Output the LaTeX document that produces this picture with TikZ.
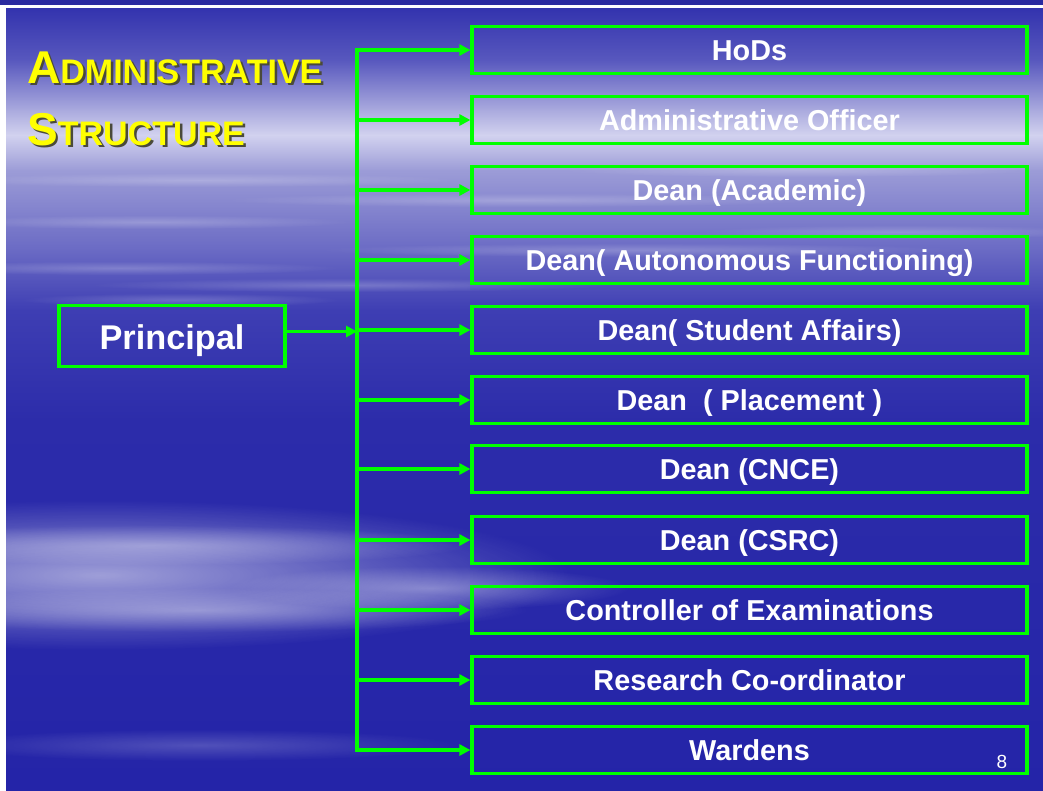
\documentclass[tikz,border=0pt]{standalone}
\usepackage{fontspec}
\setmainfont{Liberation Sans}
\usetikzlibrary{arrows.meta,fadings}
\definecolor{lgreen}{HTML}{00FF00}
\definecolor{ttlyellow}{HTML}{FFFF00}
\definecolor{ttlshadow}{HTML}{4A4A3A}
\definecolor{bgA}{HTML}{3333AE}
\definecolor{bgB}{HTML}{5858BE}
\definecolor{bgC}{HTML}{AAAADE}
\definecolor{bgD}{HTML}{D2D2EF}
\definecolor{bgE}{HTML}{9C9CD7}
\definecolor{bgF}{HTML}{6A6AC4}
\definecolor{bgG}{HTML}{3E3EB3}
\definecolor{bgH}{HTML}{2C2CAA}
\definecolor{bgI}{HTML}{2424A8}
\definecolor{topband}{HTML}{2A2AA0}
\tikzfading[name=softcloud, inner color=transparent!0, outer color=transparent!100]
\begin{document}
\begin{tikzpicture}[x=1pt,y=-1pt,
  box/.style={draw=lgreen,line width=3.2pt,minimum width=555pt,minimum height=47pt,inner sep=0pt,
    text height=21pt,text depth=0pt,
    text=white,font=\fontsize{28.8}{32}\selectfont\bfseries},
  pbox/.style={draw=lgreen,line width=3.2pt,minimum width=226pt,minimum height=61pt,inner sep=0pt,
    text height=26pt,text depth=0pt,
    text=white,font=\fontsize{34.3}{38}\selectfont\bfseries},
  conn/.style={draw=lgreen,line width=3.6pt},
  arr/.style={conn,-{Triangle[length=11pt,width=11pt]}},
  ttl/.style={inner sep=0pt,anchor=base west,font=\bfseries},
  cloud/.style={fill=white,path fading=softcloud,fill opacity=#1}
]
\useasboundingbox (0,0) rectangle (1043,790);
% background
\fill[white] (0,0) rectangle (1043,790);
\fill[topband] (0,0) rectangle (1043,4.5);
\shade[top color=bgA,bottom color=bgB] (6,8) rectangle (1043,60.5);
\shade[top color=bgB,bottom color=bgC] (6,60) rectangle (1043,110.5);
\shade[top color=bgC,bottom color=bgD] (6,110) rectangle (1043,135.5);
\shade[top color=bgD,bottom color=bgE] (6,135) rectangle (1043,170.5);
\shade[top color=bgE,bottom color=bgF] (6,170) rectangle (1043,250.5);
\shade[top color=bgF,bottom color=bgG] (6,250) rectangle (1043,310.5);
\shade[top color=bgG,bottom color=bgH] (6,310) rectangle (1043,420.5);
\shade[top color=bgH,bottom color=bgI] (6,420) rectangle (1043,790);
% streaks
\foreach \yy/\xx/\rr in {180/200/260,200/520/300,222/150/200,250/640/320,268/120/220,285/350/260,300/180/160,170/800/240,232/900/200}{
  \path[cloud=0.22] (\xx,\yy) ellipse ({\rr} and 7);
}
% lower cloud
\path[cloud=0.55] (100,575) ellipse (470 and 75);
\path[cloud=0.35] (150,545) ellipse (320 and 20);
\path[cloud=0.35] (200,610) ellipse (330 and 22);
\path[cloud=0.35] (430,588) ellipse (200 and 22);
\path[cloud=0.2] (200,745) ellipse (260 and 16);
% title
\node[ttl,text=ttlshadow] at (29.5,85.5) {\fontsize{46}{50}\selectfont A\fontsize{34}{38}\selectfont DMINISTRATIVE};
\node[ttl,text=ttlyellow] at (27,83) {\fontsize{46}{50}\selectfont A\fontsize{34}{38}\selectfont DMINISTRATIVE};
\node[ttl,text=ttlshadow] at (29.5,147.5) {\fontsize{46}{50}\selectfont S\fontsize{34}{38}\selectfont TRUCTURE};
\node[ttl,text=ttlyellow] at (27,145) {\fontsize{46}{50}\selectfont S\fontsize{34}{38}\selectfont TRUCTURE};
% boxes
\node[pbox] (principal) at (172,336) {Principal};
\node[box] (b1) at (749.5,50) {HoDs};
\node[box] (b2) at (749.5,120) {Administrative Officer};
\node[box] (b3) at (749.5,190) {Dean (Academic)};
\node[box] (b4) at (749.5,260) {Dean( Autonomous Functioning)};
\node[box] (b5) at (749.5,330) {Dean( Student Affairs)};
\node[box] (b6) at (749.5,400) {Dean\ \ ( Placement )};
\node[box] (b7) at (749.5,469) {Dean (CNCE)};
\node[box] (b8) at (749.5,540) {Dean (CSRC)};
\node[box] (b9) at (749.5,610) {Controller of Examinations};
\node[box] (b10) at (749.5,680) {Research Co-ordinator};
\node[box] (b11) at (749.5,750) {Wardens};
\coordinate (trunk) at (357,0);
% connectors
\draw[conn,line cap=rect] (b1.west -| trunk) -- (b11.west -| trunk);
\foreach \b in {b1,b2,b3,b4,b5,b6,b7,b8,b9,b10,b11}{
  \draw[arr] (\b.west -| trunk) -- (\b.west);
}
\coordinate (pout) at ([yshift=4.5pt]principal.east);
\draw[arr] (pout) -- (pout -| trunk);
% page number
\node[text=white,inner sep=0pt,font=\fontsize{19}{20}\selectfont] (pnum) at (1002,762) {8};
\end{tikzpicture}
\end{document}
